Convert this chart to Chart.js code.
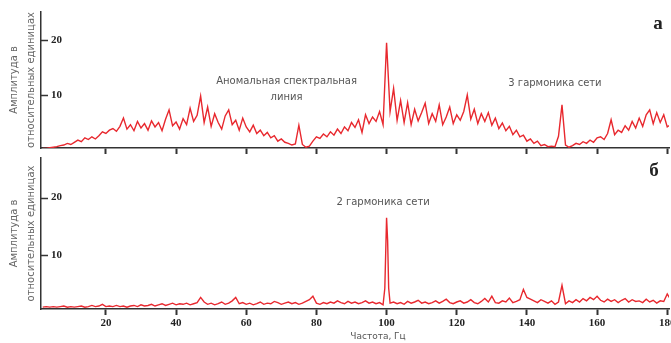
<!DOCTYPE html>
<html>
<head>
<meta charset="utf-8">
<script src="https://cdn.jsdelivr.net/npm/chart.js@4.4.1/dist/chart.umd.min.js"></script>
<style>
  html, body { margin: 0; padding: 0; background: #fff; }
  #wrap { position: relative; width: 671px; height: 343px; overflow: hidden; }
  .box { position: absolute; left: 0; width: 671px; }
  #boxA { top: 0; height: 160px; }
  #boxB { top: 155px; height: 188px; }
</style>
</head>
<body>
<div id="wrap">
  <div class="box" id="boxA"><canvas id="chartA"></canvas></div>
  <div class="box" id="boxB"><canvas id="chartB"></canvas></div>
</div>
<script>
// частоты, Гц (шаг 1 Гц, от 2 до 181)
const freq = Array.from({ length: 180 }, (_, i) => i + 2);

// а) амплитуда, отн. ед.
const ampA = [
  0.3, 0.3, 0.4, 0.5, 0.6, 0.8, 0.9, 1.2, 1.0, 1.4,
  1.8, 1.5, 2.2, 1.9, 2.4, 2.0, 2.6, 3.3, 3.0, 3.6,
  3.9, 3.4, 4.3, 5.8, 3.8, 4.6, 3.5, 5.2, 4.0, 4.8,
  3.6, 5.3, 4.2, 5.0, 3.5, 5.6, 7.3, 4.4, 5.1, 3.8,
  5.7, 4.6, 7.6, 5.2, 6.3, 9.8, 5.0, 7.8, 4.3, 6.6,
  5.0, 3.8, 6.2, 7.3, 4.6, 5.4, 3.6, 5.8, 4.2, 3.3,
  4.5, 3.0, 3.6, 2.6, 3.2, 2.2, 2.6, 1.6, 2.0, 1.4,
  1.2, 0.9, 1.1, 4.5, 1.0, 0.5, 0.7, 1.6, 2.4, 2.1,
  2.9, 2.4, 3.3, 2.7, 3.8, 3.0, 4.2, 3.5, 5.0, 4.1,
  5.5, 3.2, 6.4, 4.8, 6.0, 5.2, 7.0, 4.6, 19.5, 7.0,
  11.2, 5.4, 9.0, 5.0, 8.6, 4.6, 7.4, 5.3, 6.8, 8.5,
  4.8, 6.6, 5.2, 8.2, 4.6, 6.0, 7.8, 4.8, 6.4, 5.4,
  7.0, 10.0, 5.6, 7.4, 4.8, 6.6, 5.2, 6.8, 4.5, 5.8,
  3.9, 4.9, 3.5, 4.3, 2.8, 3.6, 2.4, 2.7, 1.6, 2.0,
  1.2, 1.6, 0.8, 1.0, 0.6, 0.7, 0.6, 2.5, 8.2, 0.9,
  0.5, 0.8, 1.2, 1.0, 1.5, 1.2, 1.8, 1.4, 2.2, 2.4,
  1.9, 3.0, 5.5, 2.8, 3.6, 3.2, 4.4, 3.6, 5.2, 4.0,
  5.8, 4.3, 6.4, 7.3, 4.8, 6.8, 5.0, 6.4, 4.2, 4.6
];

// б) амплитуда, отн. ед.
const ampB = [
  0.9, 1.0, 0.9, 1.0, 0.9, 1.0, 1.1, 0.9, 1.0, 0.9,
  1.0, 1.1, 0.9, 1.0, 1.2, 1.0, 1.1, 1.4, 1.0, 1.1,
  1.0, 1.2, 1.0, 1.1, 0.9, 1.1, 1.2, 1.0, 1.3, 1.1,
  1.2, 1.4, 1.1, 1.3, 1.5, 1.2, 1.4, 1.6, 1.3, 1.5,
  1.4, 1.6, 1.3, 1.5, 1.7, 2.6, 1.8, 1.4, 1.6, 1.3,
  1.5, 1.8, 1.4, 1.6, 2.0, 2.6, 1.5, 1.7, 1.4, 1.6,
  1.3, 1.5, 1.8, 1.4, 1.6, 1.5, 1.9, 1.7, 1.4, 1.6,
  1.8, 1.5, 1.7, 1.4, 1.6, 1.9, 2.2, 2.8, 1.6, 1.4,
  1.7, 1.5, 1.8, 1.6, 2.0, 1.7, 1.5, 1.9, 1.6, 1.8,
  1.5, 1.7, 2.0, 1.6, 1.8, 1.5, 1.7, 1.3, 16.5, 1.6,
  1.8, 1.5, 1.7, 1.4, 1.9, 1.6, 1.8, 2.1, 1.6, 1.8,
  1.5, 1.7, 2.0, 1.6, 1.9, 2.3, 1.7, 1.5, 1.8, 2.0,
  1.6, 1.8, 2.2, 1.7, 1.5, 1.9, 2.4, 1.8, 2.8, 1.7,
  1.6, 2.0, 1.8, 2.5, 1.7, 1.9, 2.2, 4.0, 2.6, 2.3,
  2.0, 1.7, 2.2, 1.9, 1.6, 2.0, 1.4, 1.8, 4.7, 1.5,
  2.0, 1.7, 2.2, 1.8, 2.4, 2.0, 2.6, 2.2, 2.8, 2.1,
  1.8, 2.3, 1.9, 2.2, 1.7, 2.1, 2.4, 1.8, 2.2, 1.9,
  2.0, 1.7, 2.3, 1.8, 2.1, 1.6, 2.0, 1.9, 3.2, 2.2
];
// уточнённая форма пика 100 Гц на графике б
const peakFreqB = [99.5, 100.3, 100.6];
const peakAmpB = [4.2, 12.5, 4.2];

const xTicks = [20, 40, 60, 80, 100, 120, 140, 160, 180];
const yTicks = [10, 20];
const yTitle = ['Амплитуда в', 'относительных единицах'];

const RED = '#e8282e';
const AXIS = '#333';

function zip(xs, ys) {
  return xs.map((v, i) => ({ x: v, y: ys[i] }));
}

const pointsA = zip(freq, ampA);
const pointsB = zip(freq, ampB).concat(zip(peakFreqB, peakAmpB)).sort((a, b) => a.x - b.x);

// короткие риски оси Y внутрь поля графика
const yInnerTicks = {
  id: 'yInnerTicks',
  afterDatasetsDraw(chart) {
    const { ctx, chartArea, scales: { y } } = chart;
    ctx.save();
    ctx.strokeStyle = AXIS;
    ctx.lineWidth = 1.5;
    y.ticks.forEach(t => {
      const py = Math.round(y.getPixelForValue(t.value)) + 0.5;
      ctx.beginPath();
      ctx.moveTo(chartArea.left, py);
      ctx.lineTo(chartArea.left + 7, py);
      ctx.stroke();
    });
    ctx.restore();
  }
};

// подписи на графике
const notes = {
  id: 'notes',
  afterDraw(chart, args, opts) {
    const { ctx, scales: { x, y } } = chart;
    ctx.save();
    ctx.textAlign = 'center';
    ctx.textBaseline = 'middle';
    ctx.font = '10px "DejaVu Sans"';
    ctx.fillStyle = '#555';
    (opts.labels || []).forEach(n => {
      ctx.fillText(n.text, x.getPixelForValue(n.x), y.getPixelForValue(n.y));
    });
    if (opts.xTitle) {
      ctx.font = '9px "DejaVu Sans"';
      ctx.fillText(opts.xTitle.text, opts.xTitle.px, opts.xTitle.py);
    }
    if (opts.letter) {
      ctx.font = 'bold 19px "Liberation Serif"';
      ctx.fillStyle = '#222';
      ctx.fillText(opts.letter.text, opts.letter.px, opts.letter.py);
    }
    ctx.restore();
  }
};

function makeChart(id, points, yMin, yMax, padTop, xHeight, showXLabels, noteOpts) {
  const ctx = document.getElementById(id).getContext('2d');
  return new Chart(ctx, {
    type: 'line',
    data: {
      datasets: [{
        data: points,
        borderColor: RED,
        borderWidth: 1.4,
        pointRadius: 0,
        tension: 0,
        fill: false
      }]
    },
    options: {
      responsive: true,
      maintainAspectRatio: false,
      animation: false,
      layout: { padding: { top: padTop, right: 2, left: 0, bottom: 0 } },
      plugins: {
        legend: { display: false },
        tooltip: { enabled: false },
        notes: noteOpts
      },
      scales: {
        x: {
          type: 'linear',
          min: 1.5,
          max: 180.5,
          afterBuildTicks: s => { s.ticks = xTicks.map(v => ({ value: v })); },
          afterFit: s => { s.height = xHeight; s.paddingLeft = 0; s.paddingRight = 0; },
          grid: { drawOnChartArea: false, drawTicks: true, tickLength: 6, tickWidth: 2, tickColor: AXIS },
          border: { color: AXIS, width: 1.5 },
          ticks: {
            display: showXLabels,
            autoSkip: false,
            maxRotation: 0,
            padding: 2,
            color: '#222',
            font: { family: 'Liberation Serif', size: 11, weight: 'bold' }
          }
        },
        y: {
          min: yMin,
          max: yMax,
          afterBuildTicks: s => { s.ticks = yTicks.map(v => ({ value: v })); },
          afterFit: s => { s.width = 41; s.paddingTop = 0; s.paddingBottom = 0; },
          grid: { display: false },
          border: { color: AXIS, width: 1.5 },
          ticks: {
            mirror: true,
            padding: 10,
            color: '#222',
            font: { family: 'Liberation Serif', size: 11, weight: 'bold' }
          },
          title: {
            display: true,
            text: yTitle,
            color: '#666',
            font: { family: 'DejaVu Sans', size: 10, lineHeight: 1.7 },
            padding: { top: 5.5, bottom: 0 }
          }
        }
      }
    },
    plugins: [yInnerTicks, notes]
  });
}

makeChart('chartA', pointsA, 0.36, 25.1, 12, 12, false, {
  labels: [
    { text: 'Аномальная спектральная', x: 71.5, y: 12.4 },
    { text: 'линия', x: 71.5, y: 9.5 },
    { text: '3 гармоника сети', x: 148, y: 12.2 }
  ],
  letter: { text: 'а', px: 658, py: 24 }
});

makeChart('chartB', pointsB, 0.58, 26.9, 3, 34, true, {
  labels: [
    { text: '2 гармоника сети', x: 99, y: 19.1 }
  ],
  xTitle: { text: 'Частота, Гц', px: 378, py: 182 },
  letter: { text: 'б', px: 654, py: 16 }
});
</script>
</body>
</html>
